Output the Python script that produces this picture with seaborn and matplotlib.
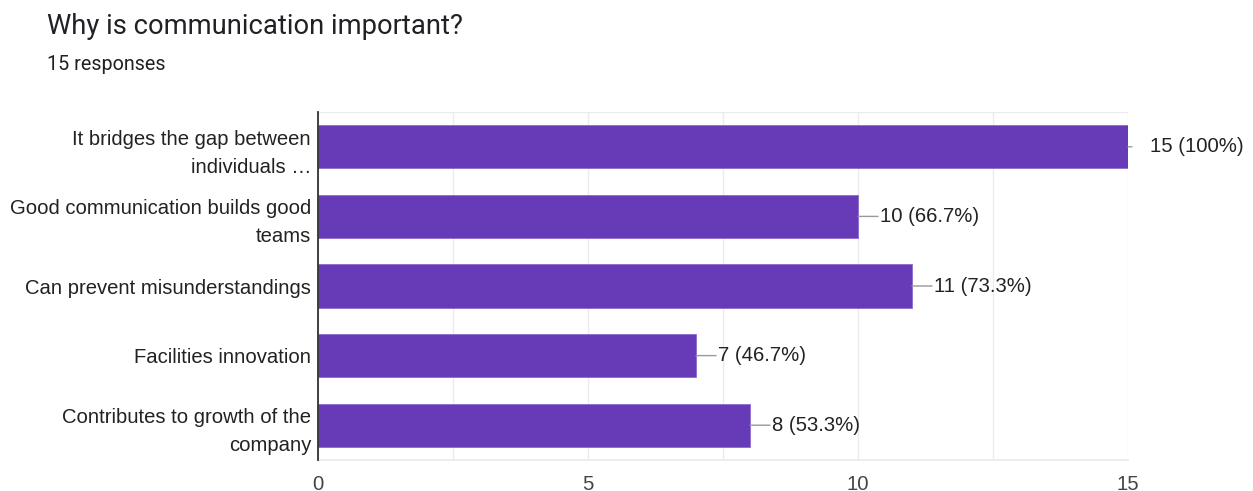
import matplotlib
matplotlib.use("Agg")
import matplotlib.pyplot as plt
import seaborn as sns
import pandas as pd

categories = [
    "It bridges the gap between\nindividuals …",
    "Good communication builds good\nteams",
    "Can prevent misunderstandings",
    "Facilities innovation",
    "Contributes to growth of the\ncompany",
]
counts = [15, 10, 11, 7, 8]
percents = ["100%", "66.7%", "73.3%", "46.7%", "53.3%"]
total_responses = 15
x_ticks = [0, 5, 10, 15]

sns.set_theme(style="white")
plt.rcParams["font.family"] = ["Liberation Sans", "DejaVu Sans"]

df = pd.DataFrame({"category": categories, "count": counts})

W, H = 1253, 491
fig = plt.figure(figsize=(W / 100, H / 100), dpi=100)
ax = fig.add_axes([318 / W, 1 - 460 / H, (1128 - 318) / W, (460 - 112) / H])

sns.barplot(data=df, x="count", y="category", color="#673ab7", saturation=1,
            width=0.62, ax=ax, orient="h")
for p in ax.patches:
    p.set_edgecolor("#8e6acf")
    p.set_linewidth(0.6)

ax.set_xlim(0, 15)
ax.set_ylim(4.5, -0.5)
ax.set_xticks(x_ticks)
ax.set_xticks([2.5, 7.5, 12.5], minor=True)
ax.grid(True, axis="x", which="both", color="#ebebeb", linewidth=1)
ax.set_axisbelow(True)
for s in ["top", "right"]:
    ax.spines[s].set_visible(False)
ax.spines["bottom"].set_color("#ebebeb")
ax.spines["left"].set_color("#333333")
ax.spines["left"].set_linewidth(1.3)
ax.spines["left"].set_zorder(5)
ax.axhline(-0.5, color="#ebebeb", lw=1, zorder=0)
ax.set_xlabel("")
ax.set_ylabel("")
ax.tick_params(axis="y", length=0, pad=5, labelsize=14.6, labelcolor="#222222")
ax.tick_params(axis="x", which="both", length=0, pad=11, labelsize=14.6, labelcolor="#444444")
for lbl in ax.get_yticklabels():
    lbl.set_horizontalalignment("right")
    lbl.set_multialignment("right")
    lbl.set_linespacing(1.6)

for i, (c, pct) in enumerate(zip(counts, percents)):
    line_len = 4 if c == max(counts) else 20
    text_off = 22
    ax.annotate("", xy=(c, i), xytext=(line_len, 0), textcoords="offset pixels",
                arrowprops=dict(arrowstyle="-", color="#999999", lw=1, shrinkA=0, shrinkB=0),
                annotation_clip=False)
    ax.annotate(f"{c} ({pct})", xy=(c, i), xytext=(text_off, 0), textcoords="offset pixels",
                ha="left", va="center", fontsize=14.6, color="#222222", annotation_clip=False)

fig.text(47 / W, 1 - 27 / H, "Why is communication important?", fontsize=19.7,
         color="#202124", va="center", ha="left", family=["Roboto", "DejaVu Sans"])
fig.text(47 / W, 1 - 64 / H, f"{total_responses} responses", fontsize=14.2,
         color="#202124", va="center", ha="left", family=["Roboto", "DejaVu Sans"])

fig.savefig("out.png", dpi=100, facecolor="white")
